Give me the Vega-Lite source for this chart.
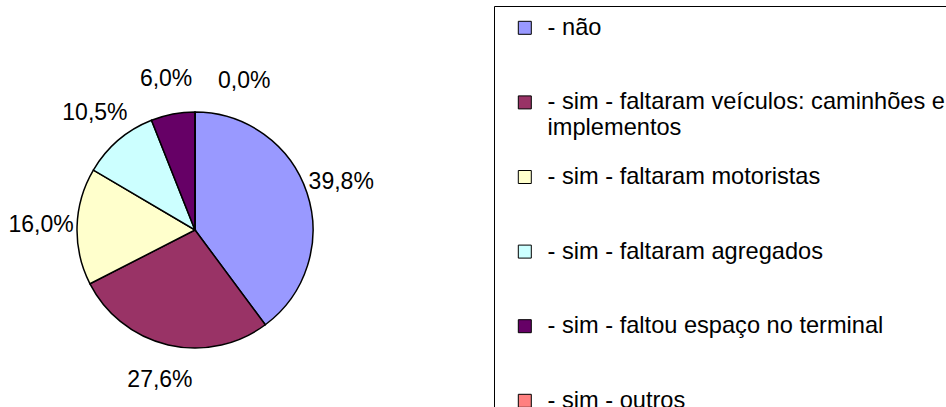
{
  "$schema": "https://vega.github.io/schema/vega-lite/v6.json",
  "autosize": {"type": "none"},
  "width": 390,
  "height": 354,
  "padding": {"left": 0, "top": 53, "right": 556, "bottom": 0},
  "background": "white",
  "config": {"view": {"stroke": null}, "font": "Liberation Sans"},
  "data": {
    "values": [
      {"categoria": "- não", "percentual": 39.8, "ordem": 1, "rotulo": "39,8%"},
      {"categoria": "- sim - faltaram veículos: caminhões e implementos", "percentual": 27.6, "ordem": 2, "rotulo": "27,6%"},
      {"categoria": "- sim - faltaram motoristas", "percentual": 16.0, "ordem": 3, "rotulo": "16,0%"},
      {"categoria": "- sim - faltaram agregados", "percentual": 10.5, "ordem": 4, "rotulo": "10,5%"},
      {"categoria": "- sim - faltou espaço no terminal", "percentual": 6.0, "ordem": 5, "rotulo": "6,0%"},
      {"categoria": "- sim - outros", "percentual": 0.0, "ordem": 6, "rotulo": "0,0%"}
    ]
  },
  "encoding": {
    "theta": {"field": "percentual", "type": "quantitative", "stack": true},
    "order": {"field": "ordem", "type": "quantitative"}
  },
  "layer": [
    {
      "mark": {"type": "arc", "outerRadius": 118, "stroke": "black", "strokeWidth": 1.5},
      "encoding": {
        "color": {
          "field": "categoria",
          "type": "nominal",
          "sort": null,
          "scale": {
            "domain": ["- não", "- sim - faltaram veículos: caminhões e implementos", "- sim - faltaram motoristas", "- sim - faltaram agregados", "- sim - faltou espaço no terminal", "- sim - outros"],
            "range": ["#9999FF", "#993366", "#FFFFCC", "#CCFFFF", "#660066", "#FF8080"]
          },
          "legend": {
            "orient": "none",
            "direction": "vertical",
            "legendX": 494,
            "legendY": -47,
            "title": null,
            "symbolType": "square",
            "symbolSize": 169,
            "symbolStrokeColor": "black",
            "symbolStrokeWidth": 1,
            "symbolOpacity": 1,
            "symbolOffset": 9,
            "labelFontSize": 23.6,
            "labelFont": "Liberation Sans",
            "labelColor": "black",
            "labelOffset": 11,
            "labelLimit": 700,
            "rowPadding": 24.6,
            "gridAlign": "all",
            "padding": 10,
            "strokeColor": "black",
            "fillColor": "white",
            "labelExpr": "datum.label == '- sim - faltaram veículos: caminhões e implementos' ? ['- sim - faltaram veículos: caminhões e', 'implementos'] : datum.label"
          }
        }
      }
    },
    {
      "transform": [{"filter": "datum.percentual > 0"}],
      "mark": {"type": "text", "radius": 154, "fontSize": 23, "font": "Liberation Sans", "color": "black"},
      "encoding": {"text": {"field": "rotulo", "type": "nominal"}}
    },
    {
      "transform": [{"filter": "datum.percentual == 0"}],
      "mark": {"type": "text", "radius": 149, "align": "left", "dx": 23, "fontSize": 23, "font": "Liberation Sans", "color": "black"},
      "encoding": {"text": {"field": "rotulo", "type": "nominal"}}
    }
  ]
}
